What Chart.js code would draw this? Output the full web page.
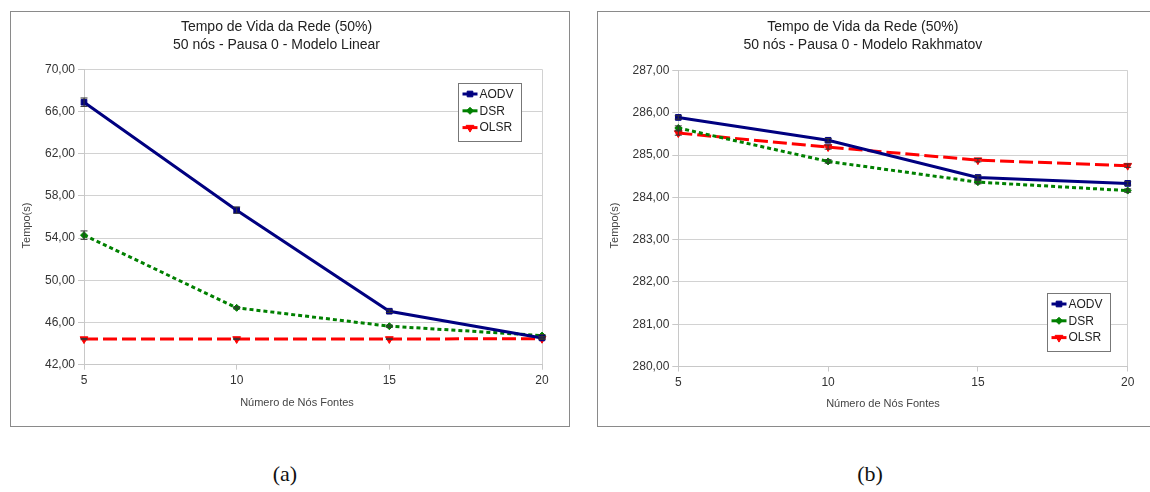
<!DOCTYPE html>
<html>
<head>
<meta charset="utf-8">
<script src="https://cdn.jsdelivr.net/npm/chart.js@4.4.1/dist/chart.umd.min.js"></script>
<style>
  body { margin: 0; background: #fff; width: 1150px; height: 492px; overflow: hidden; position: relative;
         font-family: "Liberation Sans", Arial, sans-serif; }
  .panel { position: absolute; top: 11px; height: 414px; border: 1px solid #8a8a8a; background: #fff; }
  .panel canvas { display: block; }
  .cap { position: absolute; top: 463px; width: 60px; text-align: center; line-height: 22px;
         font-family: "Liberation Serif", "Times New Roman", serif; font-size: 22px; color: #111; }
</style>
</head>
<body>
<div class="panel" style="left:10px; width:558px;"><canvas id="chartA" width="558" height="414"></canvas></div>
<div class="panel" style="left:597px; width:556px;"><canvas id="chartB" width="556" height="414"></canvas></div>
<div class="cap" style="left:255px;">(a)</div>
<div class="cap" style="left:840px;">(b)</div>

<script>
// --- data ---
const categories = ['5', '10', '15', '20'];
const seriesNames = ['AODV', 'DSR', 'OLSR'];

// (a) Modelo Linear
const linearTicks = [42, 46, 50, 54, 58, 62, 66, 70];
const linearAodv = [66.88, 56.65, 47.07, 44.54];
const linearDsr  = [54.28, 47.39, 45.65, 44.76];
const linearOlsr = [44.43, 44.44, 44.44, 44.46];
const linearAodvErr = [0.40, 0.30, 0.12, 0.10];
const linearDsrErr  = [0.40, 0.10, 0.10, 0.10];
const linearOlsrErr = [0.06, 0.06, 0.06, 0.06];

// (b) Modelo Rakhmatov
const rakhTicks = [280, 281, 282, 283, 284, 285, 286, 287];
const rakhAodv = [285.89, 285.35, 284.47, 284.33];
const rakhDsr  = [285.64, 284.85, 284.36, 284.16];
const rakhOlsr = [285.52, 285.19, 284.88, 284.75];
const rakhAodvErr = [0.04, 0.04, 0.04, 0.04];
const rakhDsrErr  = [0.05, 0.04, 0.04, 0.04];
const rakhOlsrErr = [0.05, 0.05, 0.04, 0.04];

const FONT = '"Liberation Sans", Arial, sans-serif';
const colors = ['#000080', '#008000', '#ff0000'];
const styles = [
  { pointStyle: 'rect', pointRadius: 4, rotation: 0, dash: [] },
  { pointStyle: 'rectRot', pointRadius: 3.5, rotation: 0, dash: [4, 3] },
  { pointStyle: 'triangle', pointRadius: 4.5, rotation: 180, dash: [14, 5] }
];

// error bars drawn through the y scale
const errorBars = {
  id: 'errorBars',
  afterDatasetsDraw(chart) {
    const ctx = chart.ctx, y = chart.scales.y;
    ctx.save();
    ctx.strokeStyle = '#333';
    ctx.lineWidth = 1;
    chart.data.datasets.forEach((ds, i) => {
      chart.getDatasetMeta(i).data.forEach((pt, j) => {
        const e = ds.errors[j], v = ds.data[j];
        const top = y.getPixelForValue(v + e), bot = y.getPixelForValue(v - e);
        ctx.beginPath();
        ctx.moveTo(pt.x, top); ctx.lineTo(pt.x, bot);
        ctx.moveTo(pt.x - 3.5, top); ctx.lineTo(pt.x + 3.5, top);
        ctx.moveTo(pt.x - 3.5, bot); ctx.lineTo(pt.x + 3.5, bot);
        ctx.stroke();
      });
    });
    ctx.restore();
  }
};

// axis titles and boxed legend placed like the original
const decorations = {
  id: 'decorations',
  afterDraw(chart, args, o) {
    const ctx = chart.ctx;
    ctx.save();
    ctx.fillStyle = '#444';
    ctx.font = '11px ' + FONT;
    ctx.textAlign = 'center';
    ctx.textBaseline = 'middle';
    ctx.fillText('Número de Nós Fontes', o.xTitle[0], o.xTitle[1]);
    ctx.save();
    ctx.translate(o.yTitle[0], o.yTitle[1]);
    ctx.rotate(-Math.PI / 2);
    ctx.fillText('Tempo(s)', 0, 0);
    ctx.restore();

    // legend
    const [lx, ly] = o.legend;
    ctx.fillStyle = '#fff';
    ctx.fillRect(lx, ly, 64, 58);
    ctx.strokeStyle = '#777';
    ctx.lineWidth = 1;
    ctx.strokeRect(lx + 0.5, ly + 0.5, 63, 58);
    ctx.textAlign = 'left';
    ctx.font = '12px ' + FONT;
    chart.data.datasets.forEach((ds, i) => {
      const ry = ly + 11 + i * 16.8;
      ctx.strokeStyle = ds.borderColor;
      ctx.lineWidth = 3;
      ctx.setLineDash([]);
      ctx.beginPath();
      ctx.moveTo(lx + 4.5, ry); ctx.lineTo(lx + 19.5, ry);
      ctx.stroke();
      ctx.fillStyle = ds.borderColor;
      ctx.lineWidth = 1;
      Chart.helpers.drawPoint(ctx, {
        pointStyle: ds.pointStyle, radius: ds.pointRadius, rotation: ds.rotation, borderWidth: 1
      }, lx + 12, ry);
      ctx.fillStyle = '#222';
      ctx.fillText(ds.label, lx + 21.5, ry + 0.5);
    });
    ctx.restore();
  }
};

function makeDatasets(values, errors) {
  return seriesNames.map((name, i) => ({
    label: name,
    data: values[i],
    errors: errors[i],
    borderColor: colors[i],
    backgroundColor: colors[i],
    pointBackgroundColor: colors[i],
    pointBorderColor: colors[i],
    borderWidth: 3,
    borderDash: styles[i].dash,
    pointStyle: styles[i].pointStyle,
    pointRadius: styles[i].pointRadius,
    rotation: styles[i].rotation,
    pointBorderWidth: 1,
    tension: 0,
    fill: false
  }));
}

function makeChart(id, ticks, values, errors, geo) {
  const lastIdx = categories.length - 1;
  return new Chart(document.getElementById(id), {
    type: 'line',
    data: { labels: categories, datasets: makeDatasets(values, errors) },
    plugins: [errorBars, decorations],
    options: {
      responsive: false,
      animation: false,
      layout: { padding: { left: 0, right: geo.padRight, top: 0, bottom: 0 } },
      scales: {
        x: {
          offset: false,
          afterFit: (s) => { s.height = geo.xHeight; },
          grid: {
            color: (c) => (c.index === 0 || c.index === lastIdx) ? '#d2d2d2' : 'rgba(0,0,0,0)',
            tickColor: '#c8c8c8',
            tickLength: 5
          },
          border: { color: '#c8c8c8' },
          ticks: { color: '#333', font: { size: 12, family: FONT }, padding: 4, maxRotation: 0 }
        },
        y: {
          min: ticks[0],
          max: ticks[ticks.length - 1],
          afterFit: (s) => { s.width = geo.yWidth; },
          afterBuildTicks: (s) => { s.ticks = ticks.map(v => ({ value: v })); },
          grid: { color: '#d2d2d2', tickColor: '#c8c8c8', tickLength: 6 },
          border: { color: '#c8c8c8' },
          ticks: {
            color: '#333', font: { size: 12, family: FONT }, padding: 3,
            callback: (v) => Number(v).toFixed(2).replace('.', ',')
          }
        }
      },
      plugins: {
        legend: { display: false },
        tooltip: { enabled: false },
        title: {
          display: true,
          text: geo.title,
          color: '#222',
          font: { size: 14, family: FONT, weight: 'normal', lineHeight: 1.3 },
          padding: { top: 6.2, bottom: geo.titleBottom }
        },
        decorations: { xTitle: geo.xTitle, yTitle: geo.yTitle, legend: geo.legend }
      }
    }
  });
}

makeChart('chartA', linearTicks,
  [linearAodv, linearDsr, linearOlsr],
  [linearAodvErr, linearDsrErr, linearOlsrErr],
  {
    title: ['Tempo de Vida da Rede (50%)', '50 nós - Pausa 0 - Modelo Linear'],
    titleBottom: 14.7, padRight: 27, yWidth: 73, xHeight: 61.3,
    xTitle: [286, 390.5], yTitle: [16, 213.5], legend: [447, 71]
  });

makeChart('chartB', rakhTicks,
  [rakhAodv, rakhDsr, rakhOlsr],
  [rakhAodvErr, rakhDsrErr, rakhOlsrErr],
  {
    title: ['Tempo de Vida da Rede (50%)', '50 nós - Pausa 0 - Modelo Rakhmatov'],
    titleBottom: 15.9, padRight: 26.3, yWidth: 80.3, xHeight: 59.5,
    xTitle: [285, 392], yTitle: [17, 213.5], legend: [449, 281]
  });
</script>
</body>
</html>
